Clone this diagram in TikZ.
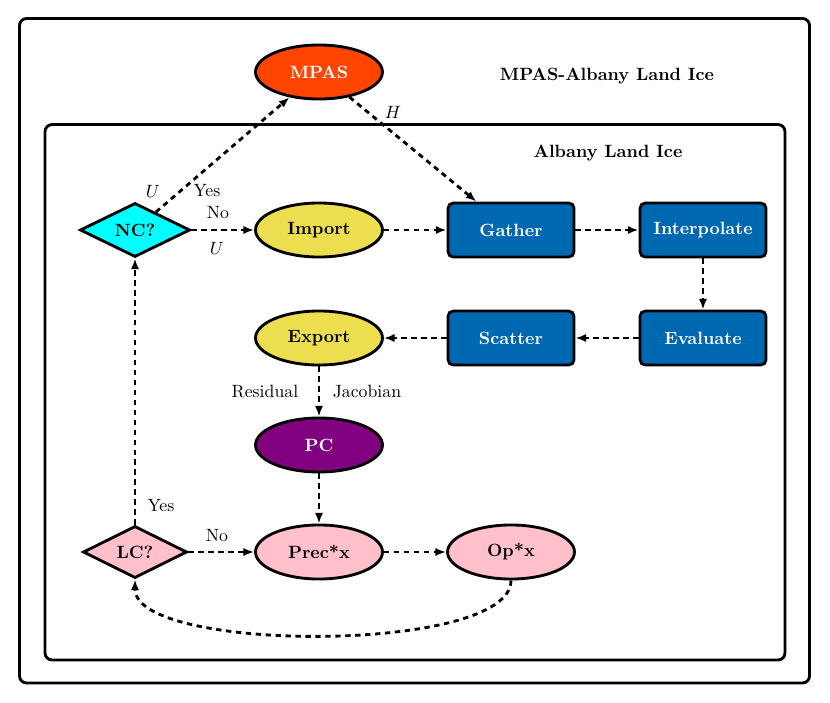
\documentclass[tikz,border=0pt]{standalone}
\usetikzlibrary{shapes.geometric,arrows.meta}
\definecolor{mpasred}{RGB}{255,69,0}
\definecolor{nccyan}{RGB}{0,255,255}
\definecolor{ylw}{RGB}{236,222,78}
\definecolor{albblue}{RGB}{0,104,177}
\definecolor{pcpurple}{RGB}{128,0,128}
\definecolor{pnk}{RGB}{255,192,203}
\tikzset{
  lw/.style={line width=1.6pt},
  ell/.style={ellipse,draw,lw,minimum width=71.4pt,minimum height=30.4pt,inner sep=0pt,font=\bfseries},
  blk/.style={rectangle,rounded corners=3pt,draw,lw,fill=albblue,text=white,minimum width=70.9pt,minimum height=30.4pt,inner sep=0pt,font=\bfseries},
  dia/.style={diamond,draw,lw,inner sep=0pt,font=\bfseries},
  conn/.style={lw,dash pattern=on 3pt off 2.6pt,-{Latex[length=6pt,width=4.6pt]}},
  lbl/.style={inner sep=0pt},
  frame/.style={draw,lw,rounded corners=4pt}
}
\begin{document}
\begin{tikzpicture}[x=0.5625pt,y=-0.5625pt]
\useasboundingbox (0,0) rectangle (830,702);
\draw[frame] (19.5,18.5) rectangle (809.5,683);
\draw[frame] (45,124.5) rectangle (785,660);
\node[lbl,font=\bfseries] (title1) at (607,76) {MPAS-Albany Land Ice};
\node[lbl,font=\bfseries] (title2) at (608,153) {Albany Land Ice};

\node[ell,fill=mpasred,text=white] (mpas) at (319,72) {MPAS};
\node[dia,fill=nccyan,minimum width=61.9pt,minimum height=30.4pt] (nc) at (135,230) {NC?};
\node[ell,fill=ylw] (import) at (319,230) {Import};
\node[blk] (gather) at (511,230) {Gather};
\node[blk] (interp) at (703,230) {Interpolate};
\node[blk] (eval) at (703,338) {Evaluate};
\node[blk] (scatter) at (511,338) {Scatter};
\node[ell,fill=ylw] (export) at (319,338) {Export};
\node[ell,fill=pcpurple,text=white] (pc) at (319,445) {PC};
\node[ell,fill=pnk] (prec) at (319,552) {Prec*x};
\node[ell,fill=pnk] (op) at (511,552) {Op*x};
\node[dia,fill=pnk,minimum width=58.5pt,minimum height=29.3pt] (lc) at (135,552) {LC?};

\draw[conn] (nc) -- (mpas);
\draw[conn] (mpas) -- (gather);
\draw[conn] (nc) -- (import);
\draw[conn] (import) -- (gather);
\draw[conn] (gather) -- (interp);
\draw[conn] (interp) -- (eval);
\draw[conn] (eval) -- (scatter);
\draw[conn] (scatter) -- (export);
\draw[conn] (export) -- (pc);
\draw[conn] (pc) -- (prec);
\draw[conn] (lc) -- (prec);
\draw[conn] (prec) -- (op);
\draw[conn] (lc) -- (nc);
\draw[conn] (op.south) to[out=-90,in=-90,looseness=0.5] (lc.south);

\node[lbl] (lu1) at (153,191) {$U$};
\node[lbl] (lyes1) at (207,191) {Yes};
\node[lbl] (lno1) at (218,213) {No};
\node[lbl] (lu2) at (217,248) {$U$};
\node[lbl] (lh) at (393,112) {$H$};
\node[lbl] (lres) at (265,392) {Residual};
\node[lbl] (ljac) at (367,392) {Jacobian};
\node[lbl] (lyes2) at (161,506) {Yes};
\node[lbl] (lno2) at (217,536) {No};
\end{tikzpicture}
\end{document}
